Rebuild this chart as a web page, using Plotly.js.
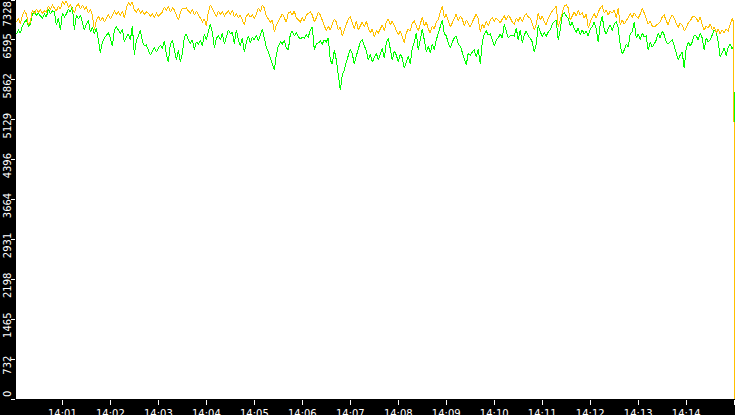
<!DOCTYPE html>
<html>
<head>
<meta charset="utf-8">
<script src="https://cdn.plot.ly/plotly-3.0.1.min.js"></script>
<style>
html,body{margin:0;padding:0;background:#000;}
#chart{width:735px;height:415px;}
#chart .scatterlayer path{shape-rendering:crispEdges;}
</style>
</head>
<body>
<div id="chart"></div>
<script>
// Sampling: first sample at 14:00:02.5, one sample every 2.5 s
const startTime = "2024-01-01 14:00:02.5";
const sampleStepMs = 2500;

const orangeSeries = [
6924,6997,6887,7052,7126,7071,6869,6924,7144,7071,
7163,7108,7144,7089,7126,7108,7218,7163,7236,7181,
7126,7218,7163,7291,7255,7310,7199,7236,7163,7089,
7218,7255,7163,7236,7163,7199,7089,7163,7052,6777,
6961,7034,6942,7016,6924,6997,7071,6979,7052,7126,
7071,7108,7034,7126,6997,7181,7273,7236,7291,7144,
7108,7181,7089,7126,7071,7108,7089,7034,7071,7016,
7089,7034,7071,7108,7199,7144,7218,7108,7181,7144,
7052,6961,7089,7181,7163,7181,7126,7089,7163,7052,
7126,7071,6997,6924,6979,6850,7108,7236,7163,7071,
7016,7126,7071,7108,7034,7089,7126,7071,7144,7016,
7089,6997,7052,6961,6869,7034,7071,7016,7052,6997,
7071,7181,7108,7236,7181,7034,6979,6924,6961,6740,
6869,6942,6997,7071,6997,6924,7089,7108,7052,7126,
6997,6961,6924,6997,6942,7052,7089,7108,7052,6924,
6997,7108,7052,6961,6887,6759,6850,6777,6887,6979,
6924,6777,6832,6667,6777,6869,6979,7016,6905,6795,
6942,6777,6850,6924,6832,6942,6814,6722,6795,6648,
6759,6722,6795,6869,6759,6924,6979,6869,6942,6850,
6777,6685,6759,6648,6538,6722,6795,6759,6905,6942,
6832,6759,6887,7016,6850,6924,6795,6722,6850,6795,
6924,6961,7108,7218,6997,7071,6942,6832,6905,6997,
7071,6942,7034,6979,6850,6961,6887,6832,6924,7016,
7071,6979,6740,6887,6814,6942,6850,6961,6997,6942,
6997,6961,6905,6979,7034,6961,7052,6997,6924,6887,
6997,6942,7016,6924,7034,7071,7016,6997,6869,6777,
6887,7089,6961,7034,6924,6869,6997,7071,7126,7163,
7218,6832,6961,7108,7218,7236,7181,6961,7052,7108,
7034,7144,7052,7089,6997,7071,6814,6924,7016,7071,
6997,7108,7181,7218,7089,7144,7052,7126,7089,7144,
6997,7181,6869,6961,6887,6942,6997,7071,7016,7089,
7034,6997,7071,7181,7089,6997,6887,6942,6850,6832,
6869,6887,6924,7016,7052,6942,6869,6997,7052,6997,
6887,6832,6905,6869,6759,6814,6905,6942,7016,7034,
6997,6924,7016,6869,6777,6850,6814,6887,6777,6832,
6722,6795,6704,6777,6722,6795,6759,6887,6997
];

const greenSeries = [
6704,6777,6722,6850,6924,6961,6850,6887,7071,7108,
7052,7089,7034,6997,7071,7016,7163,7071,7126,7108,
6869,6997,6777,7089,7016,7071,7163,7108,7199,6777,
7052,6979,7052,6924,6777,6887,6961,6740,6832,6704,
6814,6593,6354,6557,6630,6685,6722,6630,6483,6777,
6832,6777,6722,6795,6557,6648,6704,6593,6850,6318,
6593,6667,6777,6575,6483,6501,6391,6318,6391,6465,
6373,6446,6501,6428,6575,6336,6189,6520,6593,6410,
6226,6410,6189,6336,6648,6704,6593,6538,6593,6410,
6557,6520,6593,6483,6704,6593,6759,6887,6740,6446,
6630,6667,6593,6722,6520,6667,6777,6704,6740,6520,
6777,6593,6483,6630,6373,6557,6667,6538,6648,6593,
6685,6575,6667,6795,6630,6446,6373,6263,6189,6042,
6318,6483,6557,6520,6593,6446,6410,6704,6759,6667,
6722,6648,6612,6648,6630,6685,6648,6777,6832,6410,
6520,6538,6575,6520,6593,6557,6630,6226,6152,6410,
6226,5895,5675,5951,6042,6189,6318,6428,6336,6152,
6299,6446,6557,6593,6483,6391,6226,6336,6189,6281,
6354,6226,6318,6446,6263,6538,6630,6410,6226,6391,
6318,6189,6336,6263,6079,6189,6299,6152,6446,6557,
6722,6410,6630,6795,6593,6373,6483,6354,6520,6410,
6593,6722,6850,6961,6704,6667,6538,6446,6557,6630,
6667,6520,6483,6373,6263,6134,6354,6318,6373,6410,
6281,6428,6152,6557,6704,6759,6685,6704,6593,6483,
6593,6630,6704,6630,6887,6777,6630,6667,6685,6667,
6814,6593,6777,6538,6685,6759,6667,6630,6557,6373,
6520,6869,6740,6667,6722,6667,6740,6777,6887,6924,
6961,6593,6777,7052,7089,7034,6997,6850,6924,6795,
6740,6814,6685,6777,6704,6759,6667,6795,6832,6924,
6795,6557,6887,7034,6777,6704,6814,6869,6759,6887,
6924,6814,6501,6336,6410,6520,6465,6704,6740,6924,
6630,6704,6593,6722,6648,6667,6410,6557,6465,6520,
6593,6722,6630,6759,6685,6557,6520,6557,6593,6483,
6373,6226,6318,6373,6079,6446,6557,6483,6557,6685,
6667,6593,6722,6630,6410,6630,6557,6593,6685,6777,
6740,6557,6281,6373,6446,6299,6465,6520,6428
];

// last two samples at the very end of the window
const tailTimes = ["2024-01-01 14:14:59.6", "2024-01-01 14:15:00.2"];
const orangeTail = [6900, 0];
const greenTail = [6500, 3230];

const yTickValues = [0, 732, 1465, 2198, 2931, 3664, 4396, 5129, 5862, 6595, 7328];
const yTickLabels = ["0", "732", "1465", "2198", "2931", "3664", "4396", "5129", "5862", "6595", "7328"];

function pad(n, w) { let s = String(n); while (s.length < w) s = "0" + s; return s; }
function fmt(ms) {
  const d = new Date(ms);
  return d.getUTCFullYear() + "-" + pad(d.getUTCMonth() + 1, 2) + "-" + pad(d.getUTCDate(), 2) + " " +
    pad(d.getUTCHours(), 2) + ":" + pad(d.getUTCMinutes(), 2) + ":" + pad(d.getUTCSeconds(), 2) + "." + pad(d.getUTCMilliseconds(), 3);
}
const t0 = Date.parse(startTime.replace(" ", "T") + "Z");
const times = orangeSeries.map((_, i) => fmt(t0 + i * sampleStepMs));
const xAll = times.concat(tailTimes);

const traces = [
  { x: xAll, y: greenSeries.concat(greenTail), type: "scatter", mode: "lines",
    line: { color: "#00FF00", width: 1 }, hoverinfo: "skip" },
  { x: xAll, y: orangeSeries.concat(orangeTail), type: "scatter", mode: "lines",
    line: { color: "#FFC000", width: 1 }, hoverinfo: "skip" }
];

const FONT = "DejaVu Sans, Verdana, sans-serif";
const lastIdx = yTickValues.length - 1;
// first and last y labels are drawn inside the axis span (as in the reference)
const shownText = yTickLabels.map((t, i) => (i === 0 || i === lastIdx) ? "" : t);

const layout = {
  width: 735, height: 415,
  margin: { l: 16, r: 0, t: 0, b: 16, pad: 0 },
  paper_bgcolor: "#000000",
  plot_bgcolor: "#FFFFFF",
  showlegend: false,
  font: { family: FONT, size: 10, color: "#FFFFFF" },
  xaxis: {
    type: "date",
    range: ["2024-01-01 14:00:02", "2024-01-01 14:15:01"],
    tick0: "2024-01-01 14:00:00",
    dtick: 60000,
    tickformat: "%H:%M",
    ticks: "outside", ticklen: 5, tickcolor: "#FFFFFF", tickwidth: 1,
    showgrid: false, zeroline: false, showline: false,
    tickfont: { family: FONT, size: 10, color: "#FFFFFF" }
  },
  yaxis: {
    range: [0, 7328],
    tickmode: "array",
    tickvals: yTickValues,
    ticktext: shownText,
    tickangle: -90,
    ticklabelposition: "outside bottom",
    ticks: "outside", ticklen: 4, tickcolor: "#FFFFFF", tickwidth: 1,
    showgrid: false, zeroline: false, showline: false,
    tickfont: { family: FONT, size: 10, color: "#FFFFFF" }
  },
  annotations: [
    { xref: "paper", yref: "y", x: 0, y: yTickValues[0], xshift: -9,
      xanchor: "center", yanchor: "bottom", textangle: -90, showarrow: false,
      text: yTickLabels[0], font: { family: FONT, size: 10, color: "#FFFFFF" } },
    { xref: "paper", yref: "y", x: 0, y: yTickValues[lastIdx], xshift: -9,
      xanchor: "center", yanchor: "top", textangle: -90, showarrow: false,
      text: yTickLabels[lastIdx], font: { family: FONT, size: 10, color: "#FFFFFF" } }
  ]
};

Plotly.newPlot("chart", traces, layout, { staticPlot: true, displayModeBar: false });
</script>
</body>
</html>
